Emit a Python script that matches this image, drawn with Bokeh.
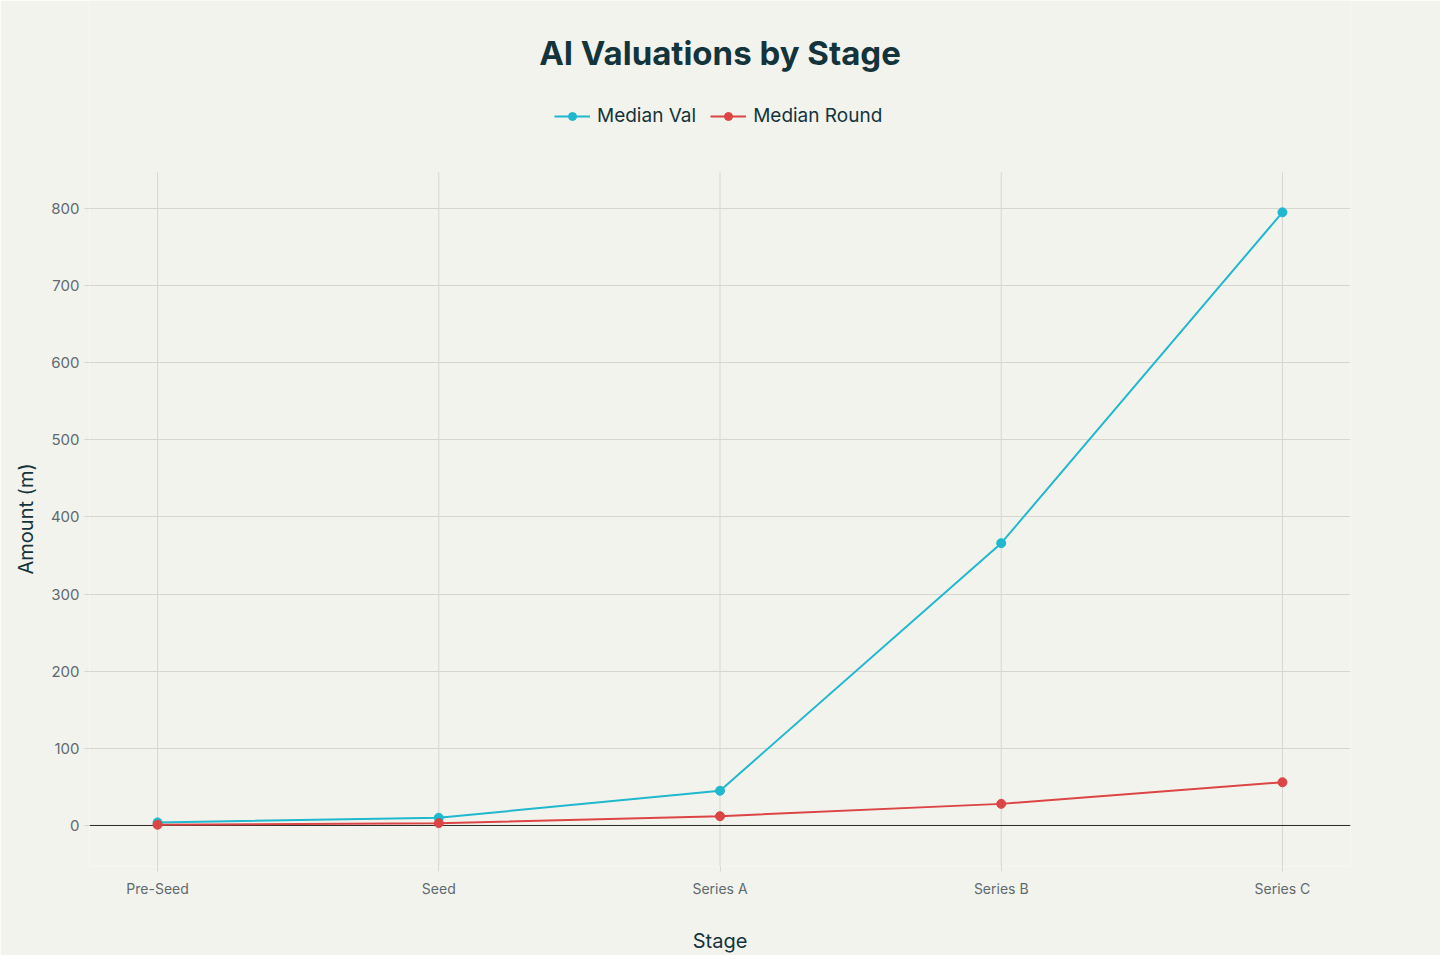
from bokeh.plotting import figure
from bokeh.models import (Range1d, FixedTicker, Span, Legend, LegendItem, Label, Title)
from bokeh.embed import file_html
from bokeh.resources import INLINE

stages = ["Pre-Seed", "Seed", "Series A", "Series B", "Series C"]
median_val = [4, 10, 45, 366, 795]
median_round = [1, 3, 12, 28, 56]
y_ticks = [0, 100, 200, 300, 400, 500, 600, 700, 800]

FONT = "Inter"
BG = "#F3F3EE"
GRID = "#D6D6D1"
TICK_TXT = "#5E6A6E"
DARK = "#13343B"
CYAN = "#1FB8CD"
RED = "#DB4545"

Y_LO, Y_HI = -53.2, 846.7          # visible plotting area
Y_TOP = Y_LO + 866 / 0.77125       # frame extends to top of canvas to host title/legend

xs = list(range(len(stages)))

p = figure(width=1440, height=955, output_backend="svg", toolbar_location=None,
           x_range=Range1d(-0.242, 4.242), y_range=Range1d(Y_LO, Y_TOP),
           min_border_left=89, min_border_right=90, min_border_top=0, min_border_bottom=89)
p.background_fill_color = BG
p.border_fill_color = BG
p.outline_line_color = None

p.xaxis.ticker = FixedTicker(ticks=xs)
p.xaxis.major_label_overrides = {i: s for i, s in enumerate(stages)}
p.yaxis.ticker = FixedTicker(ticks=y_ticks)

for ax in (p.xaxis[0], p.yaxis[0]):
    ax.axis_line_color = None
    ax.major_tick_in = 0
    ax.major_tick_out = 5
    ax.major_tick_line_color = GRID
    ax.minor_tick_line_color = None
    ax.major_label_text_font = FONT
    ax.major_label_text_color = TICK_TXT
    ax.axis_label_text_font = FONT
    ax.axis_label_text_font_size = "20px"
    ax.axis_label_text_font_style = "normal"
    ax.axis_label_text_color = DARK

p.xaxis.major_label_text_font_size = "14px"
p.yaxis.major_label_text_font_size = "15px"
p.xaxis.axis_label = "Stage"
p.xaxis.major_label_standoff = 8
p.xaxis.axis_label_standoff = 29
p.yaxis.major_label_standoff = 5

# y-axis title, positioned against the visible plotting area
ytitle = Title(text="Amount (m)", align="left", offset=292, standoff=20,
               text_font=FONT, text_font_size="20px", text_font_style="normal",
               text_color=DARK)
p.add_layout(ytitle, "left")

p.xgrid.visible = False
p.ygrid.grid_line_color = GRID

# vertical grid lines limited to the plotting area
p.segment(x0=xs, y0=[Y_LO] * len(xs), x1=xs, y1=[Y_HI] * len(xs),
          line_color=GRID, line_width=1, level="underlay")

zero = Span(location=0, dimension="width", line_color="#2B2B2B", line_width=1,
            level="underlay")
p.add_layout(zero)

l1 = p.line(xs, median_val, line_color=CYAN, line_width=2)
c1 = p.scatter(xs, median_val, size=9, fill_color=CYAN, line_color=CYAN)
l2 = p.line(xs, median_round, line_color=RED, line_width=2)
c2 = p.scatter(xs, median_round, size=9, fill_color=RED, line_color=RED)

legend = Legend(items=[LegendItem(label="Median Val", renderers=[l1, c1]),
                       LegendItem(label="Median Round", renderers=[l2, c2])],
                orientation="horizontal", location=(465, 739),
                padding=0, margin=0, spacing=14, glyph_width=36, glyph_height=20,
                label_standoff=7, label_text_font=FONT, label_text_font_size="19px",
                label_text_color=DARK, background_fill_alpha=0, border_line_alpha=0)
p.add_layout(legend, "center")

title = Label(x=2, y=1002, text="AI Valuations by Stage", text_align="center",
              text_baseline="middle", text_font=FONT, text_font_size="33px",
              text_font_style="bold", text_color=DARK)
p.add_layout(title)

open("out.html", "w").write(file_html(p, INLINE))
